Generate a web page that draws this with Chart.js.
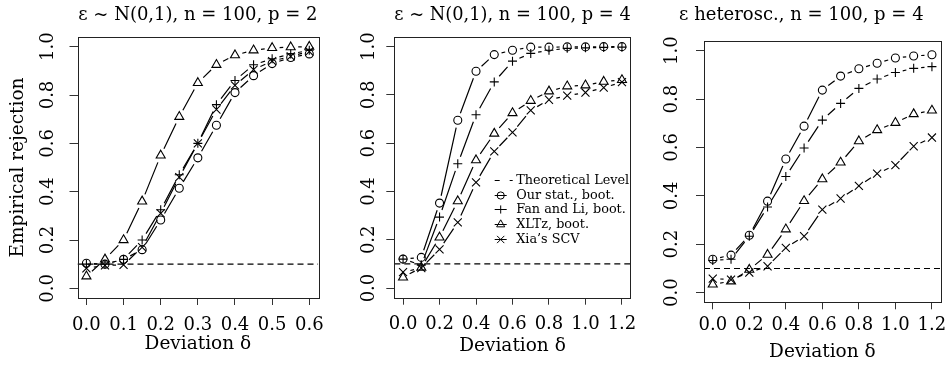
<!DOCTYPE html>
<html><head><meta charset="utf-8">
<script src="https://cdn.jsdelivr.net/npm/chart.js@4/dist/chart.umd.min.js"></script>
<style>
html,body{margin:0;padding:0;background:#fff;width:948px;height:373px;overflow:hidden}
canvas{position:absolute;top:0}
</style></head><body>
<canvas id="c1" width="325" height="373" style="left:0px"></canvas>
<canvas id="c2" width="310" height="373" style="left:330px"></canvas>
<canvas id="c3" width="286" height="373" style="left:662px"></canvas>
<script>
// ---------- data ----------
const deltaA = [0, 0.05, 0.10, 0.15, 0.20, 0.25, 0.30, 0.35, 0.40, 0.45, 0.50, 0.55, 0.60];
const deltaB = [0, 0.1, 0.2, 0.3, 0.4, 0.5, 0.6, 0.7, 0.8, 0.9, 1.0, 1.1, 1.2];
const theoreticalLevel = 0.1;

// panel 1: eps ~ N(0,1), n = 100, p = 2
const p1Our  = [0.104, 0.100, 0.120, 0.160, 0.283, 0.414, 0.540, 0.675, 0.810, 0.880, 0.930, 0.955, 0.970];
const p1Fan  = [0.100, 0.100, 0.120, 0.200, 0.325, 0.470, 0.600, 0.760, 0.860, 0.925, 0.950, 0.970, 0.985];
const p1XLTz = [0.050, 0.120, 0.200, 0.360, 0.550, 0.710, 0.850, 0.925, 0.965, 0.985, 0.995, 0.998, 1.000];
const p1Xia  = [0.083, 0.095, 0.097, 0.170, 0.310, 0.460, 0.600, 0.740, 0.840, 0.905, 0.940, 0.960, 0.980];

// panel 2: eps ~ N(0,1), n = 100, p = 4
const p2Our  = [0.120, 0.127, 0.352, 0.695, 0.898, 0.967, 0.985, 0.998, 0.998, 0.999, 0.999, 1.000, 1.000];
const p2Fan  = [0.120, 0.095, 0.294, 0.515, 0.718, 0.854, 0.940, 0.972, 0.985, 0.993, 0.995, 0.997, 0.998];
const p2XLTz = [0.044, 0.085, 0.210, 0.360, 0.530, 0.640, 0.725, 0.776, 0.815, 0.836, 0.840, 0.855, 0.862];
const p2Xia  = [0.066, 0.083, 0.160, 0.272, 0.438, 0.566, 0.645, 0.736, 0.780, 0.797, 0.810, 0.830, 0.853];

// panel 3: eps heterosc., n = 100, p = 4
const p3Our  = [0.138, 0.155, 0.237, 0.378, 0.552, 0.688, 0.837, 0.895, 0.925, 0.948, 0.970, 0.978, 0.983];
const p3Fan  = [0.133, 0.138, 0.233, 0.354, 0.480, 0.598, 0.713, 0.782, 0.844, 0.883, 0.910, 0.927, 0.934];
const p3XLTz = [0.034, 0.047, 0.095, 0.157, 0.262, 0.379, 0.469, 0.538, 0.626, 0.672, 0.702, 0.738, 0.753];
const p3Xia  = [0.058, 0.054, 0.083, 0.109, 0.185, 0.233, 0.343, 0.389, 0.441, 0.492, 0.527, 0.605, 0.641];

const xTicksA = [0, 0.1, 0.2, 0.3, 0.4, 0.5, 0.6];
const xTicksB = [0, 0.2, 0.4, 0.6, 0.8, 1.0, 1.2];
const yTicks  = [0, 0.2, 0.4, 0.6, 0.8, 1.0];

const titles = ['\u03B5 ~ N(0,1), n = 100, p = 2', '\u03B5 ~ N(0,1), n = 100, p = 4', '\u03B5 heterosc., n = 100, p = 4'];
const seriesNames = ['Theoretical Level', 'Our stat., boot.', 'Fan and Li, boot.', 'XLTz, boot.', "Xia\u2019s SCV"];
const xTitle = 'Deviation \u03B4';
const yTitle = 'Empirical rejection';

// ---------- styling ----------
const FONT = 'DejaVu Serif';
const FS_TICK = 18;
const FS_TITLE = 18;
const FS_AXIS = 18.5;
const GAP = 7.5;
const LW = 1.2;
const markers = [
  {pointStyle: 'circle', pointRadius: 4},
  {pointStyle: 'cross', pointRadius: 4.5},
  {pointStyle: 'triangle', pointRadius: 5.2},
  {pointStyle: 'crossRot', pointRadius: 5.7}
];

const gapLines = {
  id: 'gapLines',
  afterDatasetsDraw(chart) {
    const ctx = chart.ctx;
    chart.data.datasets.forEach((ds, di) => {
      if (!ds.gapLine) return;
      const pts = chart.getDatasetMeta(di).data;
      ctx.save();
      ctx.strokeStyle = '#000'; ctx.lineWidth = LW; ctx.beginPath();
      for (let i = 0; i < pts.length - 1; i++) {
        const a = pts[i], b = pts[i + 1];
        const dx = b.x - a.x, dy = b.y - a.y, L = Math.hypot(dx, dy);
        if (L > 2 * GAP) {
          const ux = dx / L, uy = dy / L;
          ctx.moveTo(a.x + ux * GAP, a.y + uy * GAP);
          ctx.lineTo(b.x - ux * GAP, b.y - uy * GAP);
        }
      }
      ctx.stroke(); ctx.restore();
    });
  }
};

const boxPlugin = {
  id: 'boxPlugin',
  afterDraw(chart) {
    const {left, right, top, bottom} = chart.chartArea;
    const ctx = chart.ctx;
    ctx.save(); ctx.strokeStyle = '#222'; ctx.lineWidth = 1;
    ctx.strokeRect(Math.round(left) + 0.5, Math.round(top) + 0.5, Math.round(right - left), Math.round(bottom - top));
    ctx.restore();
  }
};

function marker(ctx, style, r, x, y) {
  if (Chart.helpers && Chart.helpers.drawPoint) {
    ctx.fillStyle = 'rgba(0,0,0,0)'; ctx.strokeStyle = '#000'; ctx.lineWidth = 1;
    Chart.helpers.drawPoint(ctx, {pointStyle: style, radius: r, borderWidth: 1, rotation: 0}, x, y);
  }
}

const innerLegend = {
  id: 'innerLegend',
  afterDraw(chart, args, opts) {
    if (!opts.show) return;
    const ctx = chart.ctx, ca = chart.chartArea;
    const x0 = ca.right + opts.dx, y0 = ca.top + opts.dy;
    ctx.save();
    seriesNames.forEach((name, i) => {
      const ds = chart.data.datasets.find(d => d.label === name);
      const y = Math.round(y0 + i * opts.rowH) + 0.5;
      ctx.strokeStyle = '#000'; ctx.lineWidth = 1;
      if (ds.gapLine) {
        ctx.setLineDash([]);
        ctx.beginPath(); ctx.moveTo(x0, y); ctx.lineTo(x0 + 12, y); ctx.stroke();
        marker(ctx, ds.pointStyle, ds.pointRadius * 0.9, x0 + 6, y);
      } else {
        ctx.setLineDash([5, 10]);
        ctx.beginPath(); ctx.moveTo(x0, y); ctx.lineTo(x0 + 18, y); ctx.stroke();
        ctx.setLineDash([]);
      }
      ctx.fillStyle = '#000';
      ctx.font = opts.fontSize + 'px "' + FONT + '"';
      ctx.textBaseline = 'middle'; ctx.textAlign = 'left';
      ctx.fillText(name, x0 + opts.textDx, y);
    });
    ctx.restore();
  }
};

function buildChart(id, cfg) {
  const xs = cfg.xs;
  const sets = [cfg.our, cfg.fan, cfg.xltz, cfg.xia].map((vals, k) => ({
    label: seriesNames[k + 1],
    data: xs.map((x, i) => ({x: x, y: vals[i]})),
    showLine: false,
    gapLine: true,
    pointStyle: markers[k].pointStyle,
    pointRadius: markers[k].pointRadius,
    pointHoverRadius: markers[k].pointRadius,
    pointBorderWidth: 1.1,
    borderColor: '#000',
    backgroundColor: 'rgba(0,0,0,0)'
  }));
  sets.unshift({
    label: seriesNames[0],
    data: [{x: cfg.xmin, y: theoreticalLevel}, {x: cfg.xmax, y: theoreticalLevel}],
    showLine: true, pointRadius: 0, borderDash: [6, 4], borderWidth: 1.1,
    borderColor: '#000', backgroundColor: 'rgba(0,0,0,0)'
  });
  const tickFont = {family: FONT, size: FS_TICK};
  const axisFont = {family: FONT, size: FS_AXIS};
  return new Chart(document.getElementById(id), {
    type: 'scatter',
    data: {datasets: sets},
    plugins: [gapLines, boxPlugin, innerLegend],
    options: {
      responsive: false, animation: false, devicePixelRatio: 1,
      layout: {padding: {left: 0, top: 0, right: cfg.padRight, bottom: 0}},
      plugins: {
        legend: {display: false},
        tooltip: {enabled: false},
        title: {display: true, text: cfg.title, color: '#000', font: {family: FONT, size: FS_TITLE, weight: 'normal'},
                fullSize: cfg.titleFull, padding: {top: cfg.titleTop, bottom: cfg.titleBottom}},
        innerLegend: cfg.legend || {show: false}
      },
      scales: {
        x: {
          type: 'linear', min: cfg.xmin, max: cfg.xmax,
          afterBuildTicks: s => { s.ticks = cfg.xTicks.map(v => ({value: v})); },
          afterFit: s => { s.height = cfg.xHeight; s.paddingLeft = 0; s.paddingRight = 0; },
          ticks: {font: tickFont, color: '#000', padding: cfg.xTickPad, maxRotation: 0, minRotation: 0,
                  callback: v => Number(v).toFixed(1)},
          grid: {drawOnChartArea: false, drawTicks: true, tickLength: 7, color: '#333'},
          border: {display: false},
          title: {display: true, text: xTitle, color: '#000', font: axisFont, padding: {top: 0, bottom: cfg.xTitleBottom}}
        },
        y: {
          type: 'linear', min: -0.04, max: 1.04,
          afterBuildTicks: s => { s.ticks = yTicks.map(v => ({value: v})); },
          afterFit: s => { s.width = cfg.yWidth; s.paddingTop = 0; s.paddingBottom = 0; },
          ticks: {font: tickFont, color: '#000', padding: cfg.yTickPad, minRotation: 90, maxRotation: 90,
                  crossAlign: 'center', callback: v => Number(v).toFixed(1)},
          grid: {drawOnChartArea: false, drawTicks: true, tickLength: 8, color: '#333'},
          border: {display: false},
          title: {display: cfg.yTitle, text: yTitle, color: '#000', font: axisFont, padding: {top: 6.9, bottom: 0}}
        }
      }
    }
  });
}

buildChart('c1', {xs: deltaA, our: p1Our, fan: p1Fan, xltz: p1XLTz, xia: p1Xia,
  xmin: -0.024, xmax: 0.624, xTicks: xTicksA, title: titles[0], titleFull: false,
  titleTop: 4.7, titleBottom: 10.7, padRight: 5.5, xHeight: 75, yWidth: 77.5,
  xTickPad: 9.2, xTitleBottom: 17.6, yTickPad: 7, yTitle: true});

buildChart('c2', {xs: deltaB, our: p2Our, fan: p2Fan, xltz: p2XLTz, xia: p2Xia,
  xmin: -0.048, xmax: 1.248, xTicks: xTicksB, title: titles[1], titleFull: false,
  titleTop: 4.7, titleBottom: 10.7, padRight: 9.3, xHeight: 75.3, yWidth: 64.3,
  xTickPad: 8.5, xTitleBottom: 15.6, yTickPad: 2.5, yTitle: false,
  legend: {show: true, dx: -136, dy: 143, rowH: 14.7, textDx: 21.5, fontSize: 12.8}});

buildChart('c3', {xs: deltaB, our: p3Our, fan: p3Fan, xltz: p3XLTz, xia: p3Xia,
  xmin: -0.048, xmax: 1.248, xTicks: xTicksB, title: titles[2], titleFull: true,
  titleTop: 4.7, titleBottom: 14.7, padRight: 7.3, xHeight: 70.7, yWidth: 42,
  xTickPad: 4.9, xTitleBottom: 9.6, yTickPad: 8.9, yTitle: false});
</script>
</body></html>
